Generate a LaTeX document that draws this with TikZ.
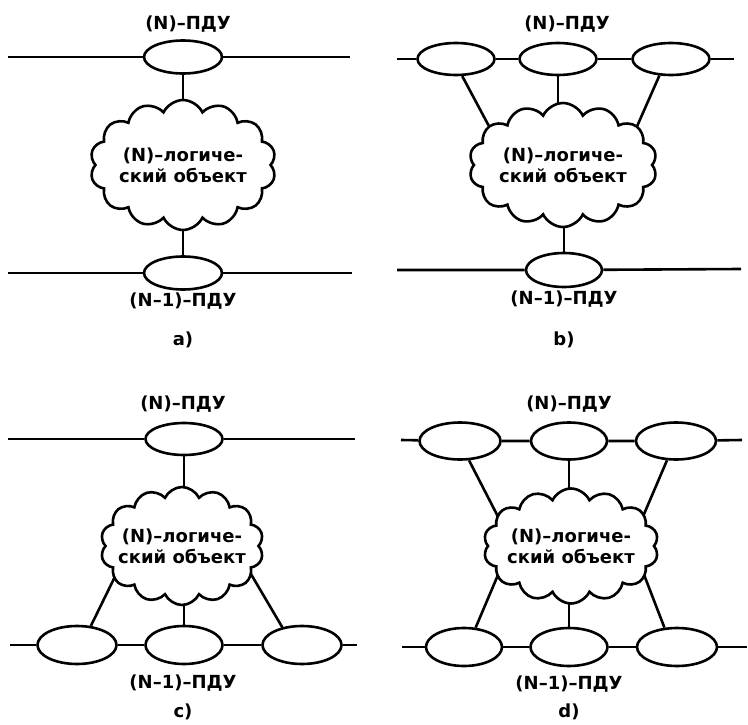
\documentclass[tikz,border=0pt]{standalone}
\usepackage{fontspec}
\setmainfont{DejaVu Sans}
\usetikzlibrary{shapes.geometric,shapes.symbols}
\pgfdeclarelayer{bg}
\pgfsetlayers{bg,main}
\tikzset{
  pdu/.style={ellipse, draw, fill=white, line width=2.6pt, inner sep=0pt,
              minimum width=78pt, minimum height=33pt},
  entity/.style={cloud, cloud puffs=14, cloud puff arc=130, cloud ignores aspect,
                 draw, fill=white, line width=2.6pt, inner sep=-14pt, align=center,
                 font=\bfseries\fontsize{18}{21}\selectfont},
  lbl/.style={font=\bfseries\fontsize{18}{20}\selectfont, inner sep=0pt},
  wire/.style={line width=2.6pt},
  link/.style={line width=2.6pt, shorten >=-10pt},
}
\newcommand{\entitytext}{(N)–логиче-\\ский объект}
\begin{document}
\begin{tikzpicture}[x=1pt, y=-1pt]
\useasboundingbox (0,0) rectangle (748,725);
\begin{pgfonlayer}{bg}
  \fill[white] (0,0) rectangle (748,725);
\end{pgfonlayer}

% ---------- a) ----------
\node[lbl] (a-lt) at (188,24) {(N)–ПДУ};
\node[pdu] (a-t) at (183,57) {};
\node[entity, minimum width=186pt, minimum height=130pt] (a-c) at (183,165) {\entitytext};
\node[pdu] (a-b) at (183,273) {};
\node[lbl] (a-lb) at (183,301) {(N–1)–ПДУ};
\node[lbl] (a-cap) at (183,340) {a)};
\coordinate (a-tL) at (8,57);   \coordinate (a-tR) at (350,57);
\coordinate (a-bL) at (8,273);  \coordinate (a-bR) at (352,273);
\draw[wire] (a-tL) -- (a-t) -- (a-tR);
\draw[wire] (a-bL) -- (a-b) -- (a-bR);
\begin{pgfonlayer}{bg}
  \draw[link] (a-t.south) -- (a-t.south |- a-c.north);
  \draw[link] (a-b.north) -- (a-b.north |- a-c.south);
\end{pgfonlayer}

% ---------- b) ----------
\node[lbl] (b-lt) at (567,24) {(N)–ПДУ};
\node[pdu, minimum width=77pt, minimum height=32pt] (b-l) at (456,59) {};
\node[pdu, minimum width=77pt, minimum height=32pt] (b-m) at (558,59) {};
\node[pdu, minimum width=77pt, minimum height=32pt] (b-r) at (671,59) {};
\node[entity, minimum width=188pt, minimum height=124pt] (b-c) at (563,165) {\entitytext};
\node[pdu, minimum width=76pt, minimum height=34pt] (b-b) at (564,270) {};
\node[lbl] (b-lb) at (564,299) {(N–1)–ПДУ};
\node[lbl] (b-cap) at (564,340) {b)};
\coordinate (b-tL) at (397,59);  \coordinate (b-tR) at (734,59);
\coordinate (b-bL) at (397,270); \coordinate (b-bR) at (741,269);
\draw[wire] (b-tL) -- (b-l) -- (b-m) -- (b-r) -- (b-tR);
\draw[wire] (b-bL) -- (b-b) -- (b-bR);
\begin{pgfonlayer}{bg}
  \draw[link] (b-l.-70) -- (b-c.152);
  \draw[link] (b-m.south) -- (b-m.south |- b-c.north);
  \draw[link] (b-r.-125) -- (b-c.28);
  \draw[link] (b-b.north) -- (b-b.north |- b-c.south);
\end{pgfonlayer}

% ---------- c) ----------
\node[lbl] (c-lt) at (183,404) {(N)–ПДУ};
\node[pdu, minimum width=77pt, minimum height=32pt] (c-t) at (184,439) {};
\node[entity, minimum width=163pt, minimum height=118pt] (c-c) at (182,546) {\entitytext};
\node[pdu, minimum width=79pt, minimum height=38pt] (c-l) at (77,645) {};
\node[pdu, minimum width=77pt, minimum height=38pt] (c-m) at (184,645) {};
\node[pdu, minimum width=79pt, minimum height=38pt] (c-r) at (302,645) {};
\node[lbl] (c-lb) at (183,683) {(N–1)–ПДУ};
\node[lbl] (c-cap) at (183,712) {c)};
\coordinate (c-tL) at (8,439);   \coordinate (c-tR) at (355,439);
\coordinate (c-bL) at (10,645);  \coordinate (c-bR) at (357,645);
\draw[wire] (c-tL) -- (c-t) -- (c-tR);
\draw[wire] (c-bL) -- (c-l) -- (c-m) -- (c-r) -- (c-bR);
\begin{pgfonlayer}{bg}
  \draw[link] (c-t.south) -- (c-t.south |- c-c.north);
  \draw[link] (c-l.54) -- (c-c.206);
  \draw[link] (c-m.north) -- (c-m.north |- c-c.south);
  \draw[link] (c-r.138) -- (c-c.-23);
\end{pgfonlayer}

% ---------- d) ----------
\node[lbl] (d-lt) at (569,404) {(N)–ПДУ};
\node[pdu, minimum width=81pt, minimum height=37pt] (d-tl) at (460,441) {};
\node[pdu, minimum width=76pt, minimum height=37pt] (d-tm) at (569,441) {};
\node[pdu, minimum width=80pt, minimum height=37pt] (d-tr) at (676,441) {};
\node[entity, minimum width=175pt, minimum height=115pt] (d-c) at (571,546) {\entitytext};
\node[pdu, minimum width=76pt, minimum height=38pt] (d-bl) at (464,647) {};
\node[pdu, minimum width=77pt, minimum height=38pt] (d-bm) at (569,647) {};
\node[pdu, minimum width=80pt, minimum height=38pt] (d-br) at (677,647) {};
\node[lbl] (d-lb) at (569,684) {(N–1)–ПДУ};
\node[lbl] (d-cap) at (569,712) {d)};
\coordinate (d-tL) at (401,440);  \coordinate (d-tR) at (742,440);
\coordinate (d-bL) at (402,647);  \coordinate (d-bR) at (747,647);
\draw[wire] (d-tL) -- (d-tl) -- (d-tm) -- (d-tr) -- (d-tR);
\draw[wire] (d-bL) -- (d-bl) -- (d-bm) -- (d-br) -- (d-bR);
\begin{pgfonlayer}{bg}
  \draw[link] (d-tl.-65) -- (d-c.157);
  \draw[link] (d-tm.south) -- (d-tm.south |- d-c.north);
  \draw[link] (d-tr.-115) -- (d-c.24);
  \draw[link] (d-bl.59) -- (d-c.203);
  \draw[link] (d-bm.north) -- (d-bm.north |- d-c.south);
  \draw[link] (d-br.123) -- (d-c.-23);
\end{pgfonlayer}
\end{tikzpicture}
\end{document}
